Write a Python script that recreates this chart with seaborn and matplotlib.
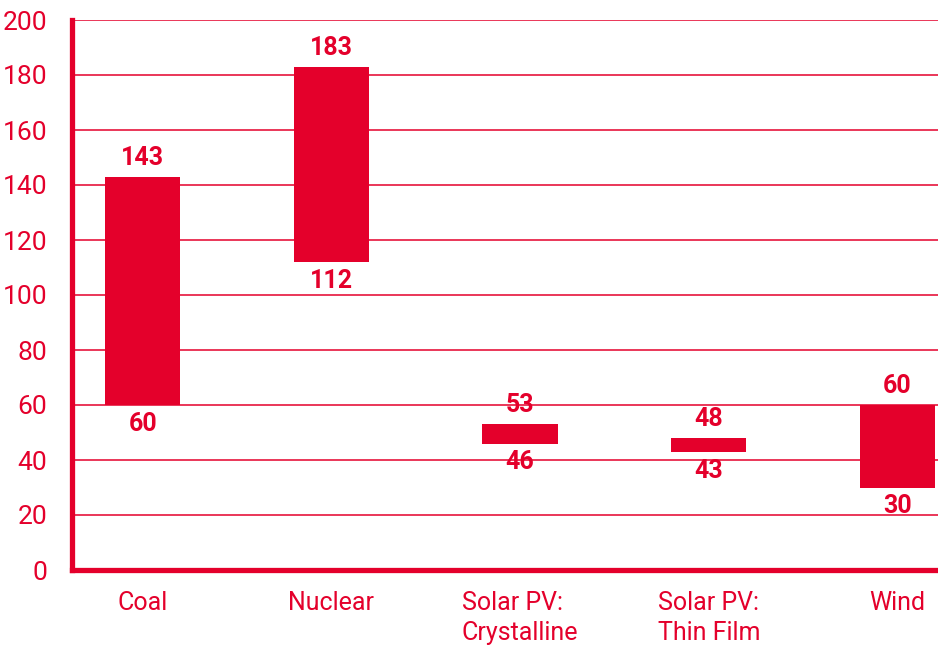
import numpy as np
import pandas as pd
import matplotlib
matplotlib.use("Agg")
import matplotlib.pyplot as plt
import seaborn as sns

# Range per technology (low and high estimates)
categories = ["Coal", "Nuclear", "Solar PV:\nCrystalline", "Solar PV:\nThin Film", "Wind"]
low_values = [60, 112, 46, 43, 30]
high_values = [143, 183, 53, 48, 60]
y_ticks = [0, 20, 40, 60, 80, 100, 120, 140, 160, 180, 200]

RED = "#E4002B"

sns.set_theme(style="white")
plt.rcParams["font.family"] = ["Roboto", "DejaVu Sans"]

df = pd.DataFrame({
    "category": categories,
    "low": low_values,
    "high": high_values,
})
df["span"] = df["high"] - df["low"]

fig = plt.figure(figsize=(9.38, 6.49), dpi=100)
ax = fig.add_axes([72 / 938, 1 - 570 / 649, 1 - 72 / 938, (570 - 20) / 649])

sns.barplot(data=df, x="category", y="span", bottom=df["low"].to_numpy(),
            color=RED, saturation=1, width=0.40, linewidth=0, ax=ax, zorder=3)

ax.set_xlim(-0.375, 4.215)
ax.set_ylim(0, 200)
ax.set_yticks(y_ticks)
ax.set_xlabel("")
ax.set_ylabel("")

# horizontal gridlines
ax.yaxis.grid(True, color=RED, linewidth=1.1, zorder=1)
ax.set_axisbelow(True)

for side in ["top", "right"]:
    ax.spines[side].set_visible(False)
for side in ["left", "bottom"]:
    ax.spines[side].set_color(RED)
    ax.spines[side].set_linewidth(3.8)
    ax.spines[side].set_zorder(4)

ax.tick_params(axis="y", length=0, pad=18, labelcolor=RED, labelsize=19)
ax.tick_params(axis="x", length=0, pad=15, labelcolor=RED, labelsize=18)
for lbl in ax.get_yticklabels() + ax.get_xticklabels():
    lbl.set_fontweight("normal")
for lbl in ax.get_xticklabels():
    lbl.set_multialignment("left")
    lbl.set_linespacing(1.3)

# value labels above and below each bar
for i, (lo, hi) in enumerate(zip(low_values, high_values)):
    ax.annotate(str(hi), (i, hi), xytext=(0, 5), textcoords="offset points",
                ha="center", va="bottom", color=RED, fontsize=18, fontweight="bold")
    ax.annotate(str(lo), (i, lo), xytext=(0, -5), textcoords="offset points",
                ha="center", va="top", color=RED, fontsize=18, fontweight="bold")

fig.savefig("out.png", dpi=100)
